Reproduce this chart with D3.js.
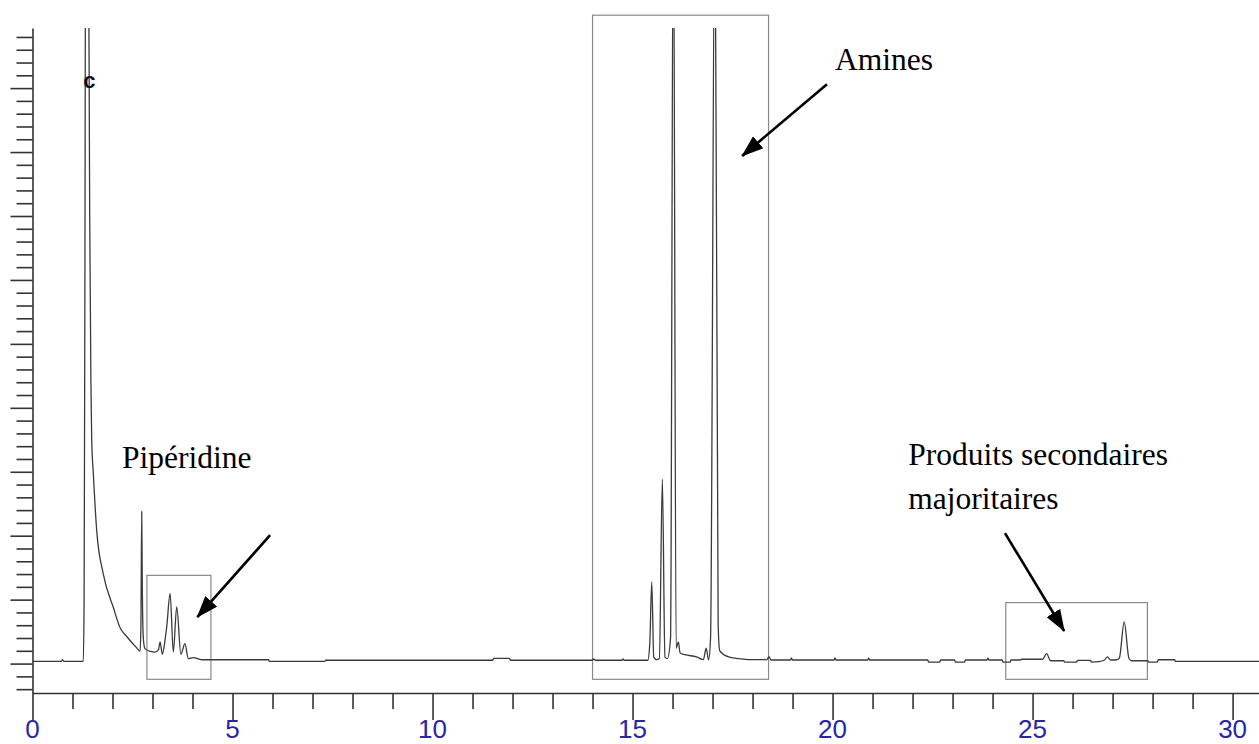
<!DOCTYPE html>
<html>
<head>
<meta charset="utf-8">
<script src="https://cdn.jsdelivr.net/npm/d3@7"></script>
<style>
  html, body { margin: 0; padding: 0; background: #fff; }
  svg { display: block; }
</style>
</head>
<body>
<svg id="chart" width="1259" height="744"></svg>
<script>
// ---------- DATA ----------
// retention time (min)
const retentionTime = [
  0.00, 0.72, 0.75, 0.78, 1.27, 1.29, 1.31, 1.33, 1.39, 1.43, 1.46, 1.48, 1.52, 1.605, 1.77,
  2.02, 2.19, 2.36, 2.60, 2.69, 2.71, 2.73, 2.745, 2.77, 2.81, 2.95, 3.06, 3.15, 3.19, 3.245,
  3.32, 3.355, 3.44, 3.52, 3.605, 3.71, 3.81, 3.895, 4.02, 4.23, 5.90, 5.92, 7.31, 7.33,
  11.50, 11.53, 11.92, 11.95, 14.00, 14.02, 14.08, 14.74, 14.76, 14.79, 15.38, 15.43, 15.48,
  15.53, 15.60, 15.67, 15.745, 15.81, 15.87, 15.95, 16.02, 16.09, 16.145, 16.19, 16.31, 16.60,
  16.77, 16.84, 16.90, 16.95, 17.06, 17.14, 17.18, 17.40, 17.66, 17.90, 18.36, 18.41, 18.46,
  18.95, 18.97, 19.00, 20.04, 20.06, 20.09, 20.88, 20.90, 20.93, 22.38, 22.40, 22.68, 22.70,
  23.05, 23.07, 23.30, 23.32, 23.86, 23.88, 23.91, 24.24, 24.26, 24.44, 24.46, 24.70, 24.72,
  25.25, 25.35, 25.45, 25.78, 25.80, 26.10, 26.12, 26.45, 26.47, 26.65, 26.80, 26.87, 26.95,
  27.10, 27.17, 27.29, 27.41, 27.48, 27.88, 27.90, 28.12, 28.14, 28.55, 28.57, 30.66
];
// detector signal (arbitrary units, 1 unit = 1 minor tick)
const signal = [
  0.18, 0.18, 0.30, 0.18, 0.18, 5.0, 30.0, 62.0, 62.0, 35.0, 22.0, 17.5, 14.9, 10.4, 7.0,
  4.4, 2.8, 2.1, 1.25, 0.97, 3.0, 11.9, 6.0, 2.0, 1.17, 0.95, 0.90, 1.10, 1.69, 0.73,
  2.0, 2.86, 5.48, 0.90, 4.43, 0.73, 1.56, 0.39, 0.47, 0.30, 0.30, 0.18, 0.18, 0.26,
  0.26, 0.40, 0.40, 0.26, 0.26, 0.36, 0.26, 0.26, 0.36, 0.26, 0.26, 1.5, 6.39,
  0.50, 0.31, 0.40, 14.42, 0.50, 0.39, 2.0, 62.0, 1.2, 1.69, 0.83, 0.70, 0.52,
  0.31, 1.20, 0.30, 2.0, 62.0, 3.0, 1.0, 0.52, 0.39, 0.31, 0.31, 0.55, 0.28,
  0.28, 0.45, 0.28, 0.28, 0.45, 0.28, 0.28, 0.45, 0.28, 0.28, 0.12, 0.12, 0.28,
  0.28, 0.12, 0.12, 0.28, 0.28, 0.42, 0.28, 0.28, 0.12, 0.12, 0.28, 0.28, 0.34,
  0.34, 0.78, 0.22, 0.22, 0.12, 0.12, 0.25, 0.25, 0.12, 0.15, 0.28, 0.52, 0.28,
  0.30, 0.45, 3.26, 0.40, 0.22, 0.22, 0.12, 0.12, 0.30, 0.30, 0.18, 0.18
];
// axis ticks
const xTickValues = d3.range(0, 31, 1);
const xTickLabels = ["0", "5", "10", "15", "20", "25", "30"];
const yTickValues = d3.range(-2, 50, 1);
// highlighted regions [tStart, tEnd, vBottom, vTop]
const regionNames = ["Pipéridine", "Amines", "Produits secondaires majoritaires"];
const regionT0 = [2.86, 14.0, 24.33];
const regionT1 = [4.46, 18.4, 27.87];
const regionV0 = [-1.23, -1.23, -1.23];
const regionV1 = [6.9, 50.7, 4.77];
// annotation texts
const annotationLines = [["Pipéridine"], ["Amines"], ["Produits secondaires", "majoritaires"]];

// ---------- LAYOUT ----------
const svg = d3.select("#chart");
const x = d3.scaleLinear().domain([0, 30.66]).range([32.5, 1259]);
const y = d3.scaleLinear().domain([-2.3, 49.7]).range([693, 28]);

const axisColor = "#333";
const labelBlue = "#2626a8";

// clip for the trace (peaks run off the top)
svg.append("defs").append("clipPath").attr("id", "plotclip")
  .append("rect")
  .attr("x", x(0)).attr("y", y(49.7))
  .attr("width", x(30.66) - x(0)).attr("height", y(-2.3) - y(49.7));

// arrow marker
svg.select("defs").append("marker")
  .attr("id", "arrowhead")
  .attr("viewBox", "0 0 22 16")
  .attr("refX", 21).attr("refY", 8)
  .attr("markerWidth", 22).attr("markerHeight", 16)
  .attr("markerUnits", "userSpaceOnUse")
  .attr("orient", "auto")
  .append("path").attr("d", "M0,0 L22,8 L0,16 Z").attr("fill", "#000");

// region boxes
svg.append("g").selectAll("rect").data(regionNames).join("rect")
  .attr("x", (d, i) => x(regionT0[i]))
  .attr("y", (d, i) => y(regionV1[i]))
  .attr("width", (d, i) => x(regionT1[i]) - x(regionT0[i]))
  .attr("height", (d, i) => y(regionV0[i]) - y(regionV1[i]))
  .attr("fill", "none").attr("stroke", "#8a8a8a").attr("stroke-width", 1.2);

// trace
const pts = retentionTime.map((t, i) => [t, signal[i]]);
svg.append("path")
  .datum(pts)
  .attr("clip-path", "url(#plotclip)")
  .attr("fill", "none")
  .attr("stroke", "#3a3a3a")
  .attr("stroke-width", 1.3)
  .attr("stroke-linejoin", "round")
  .attr("d", d3.line().curve(d3.curveMonotoneX).x(d => x(d[0])).y(d => y(d[1])));

// "c" peak marker
svg.append("text")
  .attr("x", x(1.42)).attr("y", y(45.0))
  .attr("text-anchor", "middle")
  .attr("font-family", "Liberation Sans, Arial, sans-serif")
  .attr("font-size", 22).attr("font-weight", "bold")
  .attr("fill", "#111").text("c");

// ---------- AXES ----------
const gx = svg.append("g").attr("transform", `translate(0,${y(-2.3)})`)
  .call(d3.axisBottom(x).tickValues(xTickValues).tickSize(16).tickSizeOuter(0).tickFormat(""));
gx.select(".domain").attr("stroke", axisColor).attr("stroke-width", 1.6);
gx.selectAll(".tick line").attr("stroke", axisColor).attr("stroke-width", 1.6)
  .attr("y2", d => d % 5 === 0 ? 27 : 16);

svg.append("g").selectAll("text").data(xTickLabels).join("text")
  .attr("x", d => x(+d)).attr("y", 738)
  .attr("text-anchor", "middle")
  .attr("font-family", "Liberation Sans, Arial, sans-serif")
  .attr("font-size", 26)
  .attr("fill", labelBlue)
  .text(d => d);

const gy = svg.append("g").attr("transform", `translate(${x(0)},0)`)
  .call(d3.axisLeft(y).tickValues(yTickValues).tickSize(16).tickSizeOuter(0).tickFormat(""));
gy.select(".domain").attr("stroke", axisColor).attr("stroke-width", 1.6);
gy.selectAll(".tick line").attr("stroke", axisColor).attr("stroke-width", 1.6)
  .attr("x2", d => d % 5 === 0 ? -22 : -16);

// ---------- ANNOTATIONS ----------
const textAnchorT = [2.24, 20.06, 21.89];
const textAnchorV = [15.3, 46.4, 15.5];
const lineGap = 3.45; // in signal units
annotationLines.forEach((lines, i) => {
  lines.forEach((s, j) => {
    svg.append("text")
      .attr("x", x(textAnchorT[i]))
      .attr("y", y(textAnchorV[i] - j * lineGap))
      .attr("font-family", "Liberation Serif, 'Times New Roman', serif")
      .attr("font-size", 31.5)
      .attr("fill", "#000")
      .text(s);
  });
});

const arrowT0 = [5.94, 19.86, 24.31];
const arrowV0 = [10.05, 45.3, 10.2];
const arrowT1 = [4.12, 17.74, 25.79];
const arrowV1 = [3.64, 39.7, 2.55];
svg.append("g").selectAll("line").data(regionNames).join("line")
  .attr("x1", (d, i) => x(arrowT0[i])).attr("y1", (d, i) => y(arrowV0[i]))
  .attr("x2", (d, i) => x(arrowT1[i])).attr("y2", (d, i) => y(arrowV1[i]))
  .attr("stroke", "#000").attr("stroke-width", 2.6)
  .attr("marker-end", "url(#arrowhead)");
</script>
</body>
</html>
